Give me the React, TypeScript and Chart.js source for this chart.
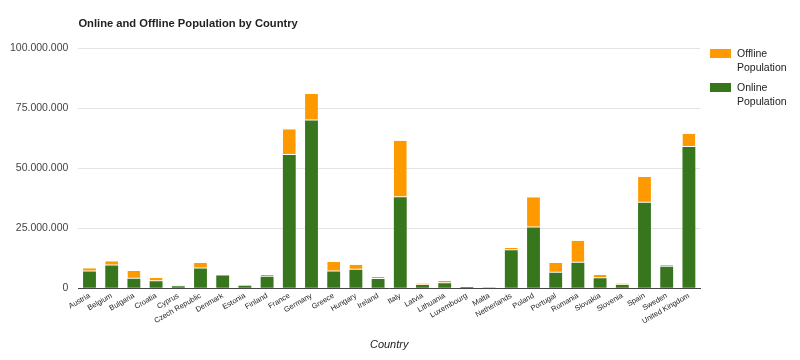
import React, { useEffect, useRef } from "react";
import { Chart, registerables } from "chart.js";

Chart.register(...registerables);

const countries = [
  "Austria", "Belgium", "Bulgaria", "Croatia", "Cyprus", "Czech Republic", "Denmark", "Estonia",
  "Finland", "France", "Germany", "Greece", "Hungary", "Ireland", "Italy", "Latvia", "Lithuania",
  "Luxembourg", "Malta", "Netherlands", "Poland", "Portugal", "Romania", "Slovakia", "Slovenia",
  "Spain", "Sweden", "United Kingdom",
];

// Online population (millions)
const onlineMillions = [
  7.05, 9.5, 4.0, 2.9, 0.85, 8.3, 5.3, 1.1, 4.8, 55.5, 69.8, 7.05, 7.7, 3.9, 37.9, 1.4, 2.1,
  0.5, 0.3, 15.8, 25.3, 6.5, 10.6, 4.2, 1.4, 35.6, 9.0, 58.8,
];
// Total population (millions)
const totalMillions = [
  8.4, 11.3, 7.2, 4.3, 1.2, 10.5, 5.5, 1.3, 5.5, 66.2, 80.9, 11.0, 9.8, 4.7, 61.4, 2.0, 3.0,
  0.6, 0.45, 16.8, 37.9, 10.5, 19.8, 5.5, 2.0, 46.3, 9.7, 64.3,
];

const onlinePopulation = onlineMillions.map((v) => Math.round(v * 1e6));
const offlinePopulation = totalMillions.map((v, i) => Math.round((v - onlineMillions[i]) * 1e6));

const yTicks = [0, 25000000, 50000000, 75000000, 100000000];

const chartTitle = "Online and Offline Population by Country";
const xTitle = "Country";
const seriesNames = ["Offline Population", "Online Population"];
const seriesColors = ["#ff9900", "#38761d"];

const FONT = "'Liberation Sans', Arial, sans-serif";

function fmt(v: number): string {
  return String(Math.round(v)).replace(/\B(?=(\d{3})+(?!\d))/g, ".");
}

const titlePlugin = {
  id: "leftTitle",
  afterDraw(chart: any) {
    const ctx = chart.ctx;
    ctx.save();
    ctx.font = `bold 11.2px ${FONT}`;
    ctx.fillStyle = "#222";
    ctx.textBaseline = "middle";
    ctx.textAlign = "left";
    ctx.fillText(chartTitle, chart.chartArea.left, 24);
    ctx.restore();
  },
};

export default function App() {
  const ref = useRef<HTMLCanvasElement | null>(null);

  useEffect(() => {
    if (!ref.current) return;
    const chart = new Chart(ref.current, {
      type: "bar",
      data: {
        labels: countries,
        datasets: [
          {
            label: seriesNames[1],
            data: onlinePopulation,
            backgroundColor: seriesColors[1],
            barPercentage: 0.58,
            categoryPercentage: 1,
          },
          {
            label: seriesNames[0],
            data: offlinePopulation,
            backgroundColor: seriesColors[0],
            borderColor: "rgba(255,255,255,0.75)",
            borderWidth: { top: 0, left: 0, right: 0, bottom: 1 },
            borderSkipped: false,
            barPercentage: 0.58,
            categoryPercentage: 1,
          },
        ],
      },
      options: {
        responsive: false,
        animation: false,
        layout: { padding: { left: 0, right: 100, top: 48, bottom: 8 } },
        plugins: {
          legend: { display: false },
          title: { display: false },
          tooltip: { enabled: false },
        },
        scales: {
          x: {
            stacked: true,
            grid: { display: false, drawTicks: false },
            border: { display: true, color: "#444" },
            ticks: {
              minRotation: 30,
              maxRotation: 30,
              autoSkip: false,
              color: "#222",
              padding: 3,
              font: { family: FONT, size: 7.5 },
            },
            title: {
              display: true,
              text: xTitle,
              color: "#222",
              padding: { top: 10, bottom: 0 },
              font: { family: FONT, size: 11, style: "italic" },
            },
          },
          y: {
            stacked: true,
            min: 0,
            max: 100000000,
            afterBuildTicks: (axis: any) => {
              axis.ticks = yTicks.map((v) => ({ value: v }));
            },
            grid: { color: "#e3e3e3", drawTicks: false },
            border: { display: false },
            ticks: {
              color: "#444",
              padding: 10,
              font: { family: FONT, size: 10.5 },
              callback: (v: any) => fmt(Number(v)),
            },
          },
        },
      },
      plugins: [titlePlugin],
    });
    return () => chart.destroy();
  }, []);

  const legendItems = [0, 1];

  return (
    <div style={{ position: "fixed", left: 0, top: 0, width: 800, height: 360, background: "#fff" }}>
      <canvas ref={ref} width={800} height={360} style={{ display: "block" }} />
      <div style={{ position: "absolute", left: 710, top: 46, fontFamily: FONT, fontSize: 10.5, color: "#222" }}>
        {legendItems.map((i) => (
          <div key={i} style={{ display: "flex", alignItems: "flex-start", marginBottom: 6 }}>
            <div style={{ width: 21, height: 9, background: seriesColors[i], marginTop: 3, marginRight: 6, flex: "none" }} />
            <div style={{ width: 60, lineHeight: "14px" }}>{seriesNames[i]}</div>
          </div>
        ))}
      </div>
    </div>
  );
}
